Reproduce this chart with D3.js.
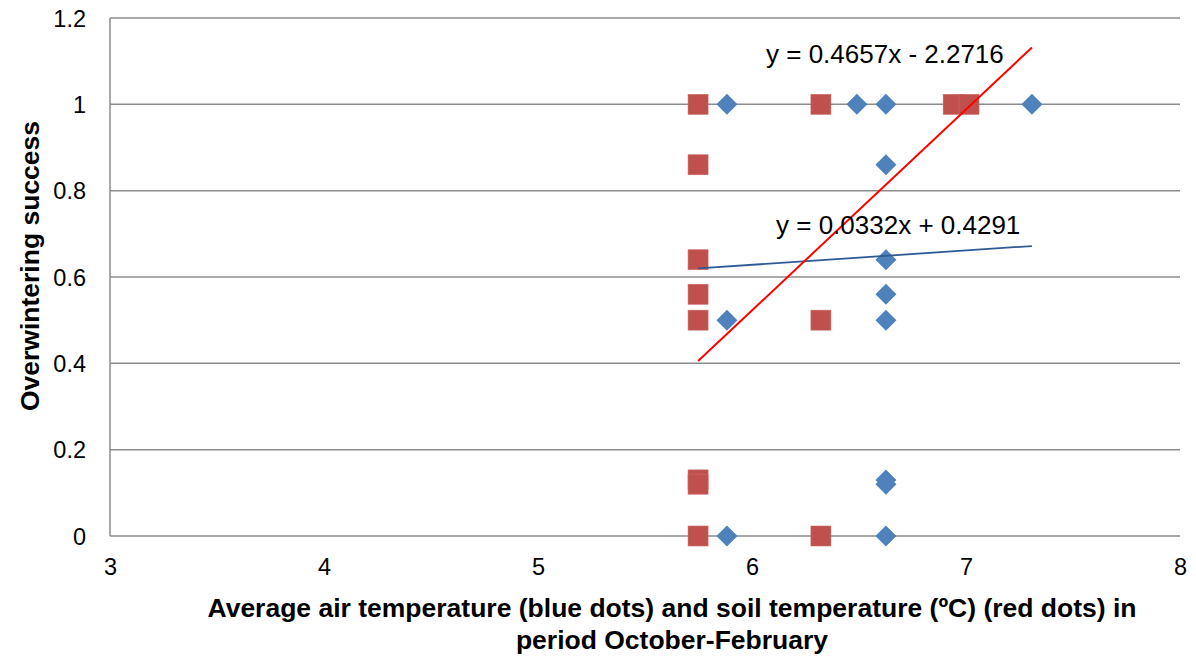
<!DOCTYPE html>
<html><head><meta charset="utf-8">
<script src="https://cdn.jsdelivr.net/npm/d3@7"></script>
<style>body{margin:0;background:#fff;} text{font-family:"Liberation Sans",Arial,sans-serif;}</style>
</head><body>
<svg id="c" width="1196" height="657"></svg>
<script>
const airX = [5.883, 5.883, 5.883, 6.49, 6.626, 6.626, 6.626, 6.626, 6.626, 6.626, 6.626, 6.626, 7.308];
const airY = [1, 0.5, 0, 1, 1, 0.86, 0.64, 0.56, 0.5, 0.13, 0.12, 0, 1];
const soilX = [5.748, 5.748, 5.748, 5.748, 5.748, 5.748, 5.748, 5.748, 6.322, 6.322, 6.322, 6.94, 7.014];
const soilY = [1, 0.86, 0.64, 0.56, 0.5, 0.13, 0.12, 0, 1, 0.5, 0, 1, 1];
const airFit = {slope: 0.0332, intercept: 0.4291, label: "y = 0.0332x + 0.4291"};
const soilFit = {slope: 0.4657, intercept: -2.2716, label: "y = 0.4657x - 2.2716"};
const fitRange = [5.748, 7.308];
const xTicks = [3, 4, 5, 6, 7, 8];
const yTicks = [0, 0.2, 0.4, 0.6, 0.8, 1, 1.2];

const svg = d3.select("#c");
const x = d3.scaleLinear().domain([3, 8]).range([110, 1180]);
const y = d3.scaleLinear().domain([0, 1.2]).range([536, 18]);

svg.append("g").selectAll("line").data(yTicks).join("line")
  .attr("x1", x(3)).attr("x2", x(8)).attr("y1", d => y(d)).attr("y2", d => y(d))
  .attr("stroke", "#8c8c8c").attr("stroke-width", 1.5);
svg.append("line").attr("x1", x(3)).attr("x2", x(3)).attr("y1", y(1.2)).attr("y2", y(0))
  .attr("stroke", "#8c8c8c").attr("stroke-width", 1.5);

const ya = d3.axisLeft(y).tickValues(yTicks).tickFormat(d => String(d)).tickSize(0).tickPadding(24);
svg.append("g").attr("transform", `translate(${x(3)},0)`).call(ya)
  .call(g => g.select(".domain").remove())
  .selectAll("text").attr("font-size", 23.5).attr("fill", "#000").attr("dy", "0.35em")
  .style("font-family", '"Liberation Sans",Arial,sans-serif');
const xa = d3.axisBottom(x).tickValues(xTicks).tickFormat(d => String(d)).tickSize(0).tickPadding(22);
svg.append("g").attr("transform", `translate(0,${y(0)})`).call(xa)
  .call(g => g.select(".domain").remove())
  .selectAll("text").attr("font-size", 23.5).attr("fill", "#000").attr("dy", null).attr("y", 39)
  .style("font-family", '"Liberation Sans",Arial,sans-serif');

const soil = soilX.map((v, i) => ({x: v, y: soilY[i]}));
const air = airX.map((v, i) => ({x: v, y: airY[i]}));
svg.append("g").selectAll("rect").data(soil).join("rect")
  .attr("x", d => x(d.x) - 10).attr("y", d => y(d.y) - 10).attr("width", 20).attr("height", 20)
  .attr("fill", "#C0504D").attr("stroke", "#c96a67").attr("stroke-width", 0.6);
svg.append("g").selectAll("path").data(air).join("path")
  .attr("d", d => { const cx = x(d.x), cy = y(d.y), r = 10.5; return `M${cx},${cy-r}L${cx+r},${cy}L${cx},${cy+r}L${cx-r},${cy}Z`; })
  .attr("fill", "#4F81BD");

function fitLine(f, color, w) {
  svg.append("line")
    .attr("x1", x(fitRange[0])).attr("y1", y(f.slope * fitRange[0] + f.intercept))
    .attr("x2", x(fitRange[1])).attr("y2", y(f.slope * fitRange[1] + f.intercept))
    .attr("stroke", color).attr("stroke-width", w);
}
fitLine(airFit, "#2f5b93", 1.8);
fitLine(soilFit, "#ff0000", 2);

svg.append("text").attr("x", 766).attr("y", 63).attr("font-size", 26).text(soilFit.label);
svg.append("text").attr("x", 776).attr("y", 234).attr("font-size", 26).text(airFit.label);

svg.append("text").attr("transform", "translate(39,266) rotate(-90)").attr("text-anchor", "middle")
  .attr("font-size", 26.5).attr("font-weight", "bold").text("Overwintering success");
svg.append("text").attr("x", 672).attr("y", 617).attr("text-anchor", "middle")
  .attr("font-size", 26.5).attr("font-weight", "bold")
  .text("Average air temperature (blue dots) and soil temperature (ºC) (red dots) in");
svg.append("text").attr("x", 672).attr("y", 649).attr("text-anchor", "middle")
  .attr("font-size", 26.5).attr("font-weight", "bold").text("period October-February");
</script>
</body></html>
